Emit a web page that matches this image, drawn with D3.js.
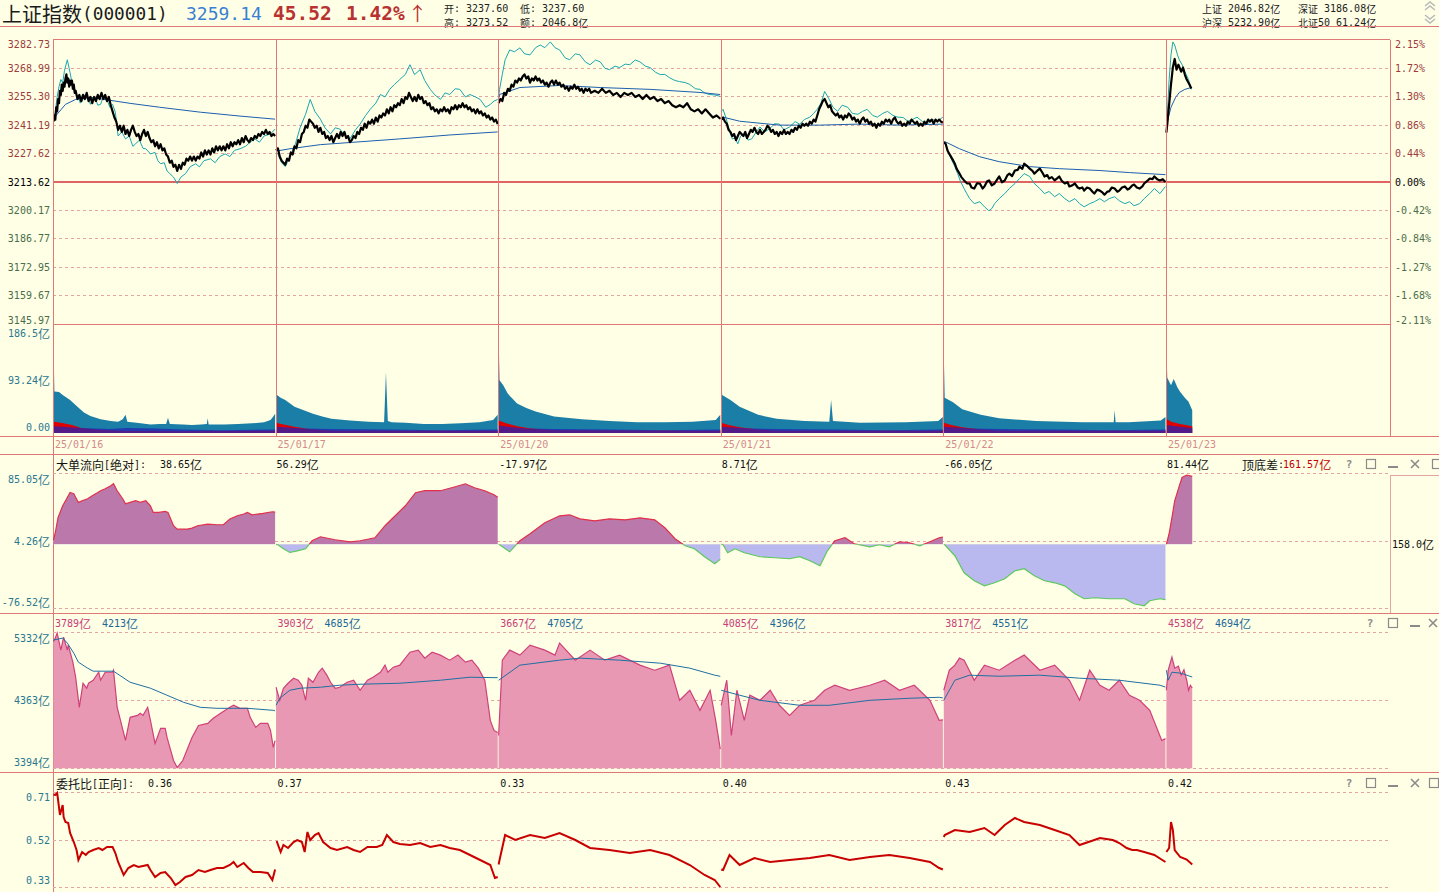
<!DOCTYPE html>
<html><head><meta charset="utf-8">
<script src="https://cdn.jsdelivr.net/npm/d3@7"></script>
<style>
html,body{margin:0;padding:0;background:#FFFFE6;overflow:hidden}
svg{display:block}
text{white-space:pre}
</style></head><body>
<svg id="c" width="1439" height="892"></svg>
<script>
// ---------------- DATA ----------------
const dates = ["25/01/16","25/01/17","25/01/20","25/01/21","25/01/22","25/01/23"];
const prevClose = 3213.62;
const priceTicks = [3282.73,3268.99,3255.30,3241.19,3227.62,3213.62,3200.17,3186.77,3172.95,3159.67,3145.97];
const pctTicks = ["2.15%","1.72%","1.30%","0.86%","0.44%","0.00%","-0.42%","-0.84%","-1.27%","-1.68%","-2.11%"];
const volTicks = [186.5, 93.24, 0];
const volTickLabels = ["186.5亿","93.24亿","0.00"];
const flowTicks = [85.05, 4.26, -76.52];
const flowTickLabels = ["85.05亿","4.26亿","-76.52亿"];
const p4Ticks = [5332, 4363, 3394];
const p4TickLabels = ["5332亿","4363亿","3394亿"];
const p5Ticks = [0.71, 0.52, 0.33];
const p5TickLabels = ["0.71","0.52","0.33"];
const headerInfo = [["开: 3237.60","低: 3237.60"],["高: 3273.52","额: 2046.8亿"]];
const marketInfo = [["上证 2046.82亿","深证 3186.08亿"],["沪深 5232.90亿","北证50 61.24亿"]];

// index price (black) [minute, price]
const indexPrice = [
 [[0,3243],[1,3246],[2,3244],[3,3250],[4,3248],[5,3254],[6,3252],[7,3258],[8,3256],[9,3261],[10,3258],[11,3262],[12,3260],[13,3264],[14,3266],[15,3262],[16,3264],[17,3260],[18,3263],[19,3261],[20,3263],[21,3259],[22,3261],[23,3257],[24,3258],[26,3254],[28,3256],[30,3253],[32,3256],[34,3254],[36,3257],[38,3253],[40,3255],[42,3252],[44,3255],[46,3253],[48,3256],[50,3254],[52,3257],[54,3254],[56,3256],[58,3253],[60,3255],[62,3251],[64,3248],[66,3245],[68,3243],[70,3239],[72,3241],[74,3238],[76,3241],[78,3237],[80,3239],[82,3236],[84,3239],[86,3241],[88,3238],[90,3236],[92,3237],[94,3234],[96,3237],[98,3239],[100,3236],[102,3238],[104,3235],[106,3233],[108,3234],[110,3231],[112,3233],[114,3230],[116,3232],[118,3229],[120,3230],[122,3227],[124,3226],[126,3223],[128,3224],[130,3221],[132,3222],[134,3219],[136,3222],[138,3220],[140,3223],[142,3222],[144,3225],[146,3224],[148,3226],[150,3224],[152,3226],[154,3224],[156,3226],[158,3225],[160,3228],[162,3226],[164,3229],[166,3227],[168,3229],[170,3227],[172,3230],[174,3228],[176,3231],[178,3229],[180,3231],[182,3229],[184,3231],[186,3229],[188,3232],[190,3230],[192,3233],[194,3231],[196,3233],[198,3232],[200,3234],[202,3232],[204,3235],[206,3233],[208,3236],[210,3234],[212,3233],[214,3235],[216,3234],[218,3236],[220,3235],[222,3237],[224,3236],[226,3238],[228,3237],[230,3239],[232,3237],[234,3238],[236,3236],[238,3237],[240,3236]],
 [[0,3229],[2,3230],[4,3226],[6,3224],[8,3223],[10,3222],[12,3225],[14,3224],[16,3228],[18,3227],[20,3231],[22,3230],[24,3234],[26,3233],[28,3237],[30,3238],[32,3241],[34,3240],[36,3244],[38,3243],[40,3242],[42,3240],[44,3241],[46,3238],[48,3240],[50,3237],[52,3238],[54,3235],[56,3236],[58,3234],[60,3236],[62,3233],[64,3235],[66,3237],[68,3235],[70,3238],[72,3236],[74,3238],[76,3235],[78,3236],[80,3233],[82,3234],[84,3236],[86,3235],[88,3238],[90,3237],[92,3240],[94,3239],[96,3242],[98,3240],[100,3243],[102,3242],[104,3244],[106,3242],[108,3245],[110,3243],[112,3246],[114,3245],[116,3247],[118,3246],[120,3249],[122,3247],[124,3250],[126,3248],[128,3251],[130,3250],[132,3252],[134,3251],[136,3254],[138,3252],[140,3255],[142,3254],[144,3257],[146,3255],[148,3253],[150,3255],[152,3253],[154,3256],[156,3254],[158,3255],[160,3252],[162,3253],[164,3251],[166,3252],[168,3249],[170,3250],[172,3248],[174,3249],[176,3247],[178,3249],[180,3248],[182,3250],[184,3248],[186,3249],[188,3247],[190,3250],[192,3249],[194,3251],[196,3249],[198,3251],[200,3250],[202,3252],[204,3250],[206,3251],[208,3249],[210,3250],[212,3248],[214,3249],[216,3247],[218,3249],[220,3247],[222,3248],[224,3246],[226,3247],[228,3245],[230,3246],[232,3244],[234,3245],[236,3243],[238,3244],[240,3241.8]],
 [[0,3252],[2,3254],[4,3253],[6,3257],[8,3256],[10,3259],[12,3258],[14,3261],[16,3260],[18,3263],[20,3262],[22,3264],[24,3263],[26,3265],[28,3266],[30,3264],[32,3265],[34,3262],[36,3264],[38,3263],[40,3265],[42,3263],[44,3264],[46,3262],[48,3263],[50,3261],[52,3262],[54,3260],[56,3262],[58,3263],[60,3261],[62,3263],[64,3261],[66,3262],[68,3260],[70,3261],[72,3259],[74,3260],[76,3258],[78,3260],[80,3259],[82,3261],[84,3259],[86,3260],[88,3258],[90,3259],[92,3257],[94,3259],[96,3258],[98,3259],[100,3257],[104,3258],[108,3257],[112,3259],[116,3257],[120,3258],[124,3256],[128,3257],[132,3255],[136,3257],[140,3256],[144,3257],[148,3255],[152,3256],[156,3254],[160,3256],[164,3254],[168,3255],[172,3253],[176,3254],[180,3252],[184,3253],[188,3251],[192,3250],[196,3251],[200,3250],[204,3252],[208,3249],[212,3248],[216,3249],[220,3247],[224,3249],[228,3247],[232,3245],[236,3246],[240,3244.4]],
 [[0,3244],[2,3245],[4,3243],[6,3242],[8,3239],[10,3238],[12,3236],[14,3237],[16,3234],[18,3236],[20,3238],[22,3237],[24,3236],[26,3238],[28,3235],[30,3237],[32,3239],[34,3238],[36,3240],[38,3238],[40,3237],[42,3239],[44,3237],[46,3238],[48,3239],[50,3241],[52,3240],[54,3238],[56,3239],[58,3237],[60,3238],[62,3236],[64,3238],[66,3237],[68,3239],[70,3237],[72,3238],[74,3237],[76,3239],[78,3238],[80,3240],[82,3239],[84,3241],[86,3240],[88,3242],[90,3241],[92,3242],[94,3241],[96,3243],[98,3242],[100,3244],[102,3243],[104,3246],[106,3249],[108,3251],[110,3253],[112,3254],[114,3252],[116,3250],[118,3251],[120,3248],[122,3247],[124,3246],[126,3247],[128,3245],[130,3246],[132,3244],[134,3246],[136,3245],[138,3247],[140,3246],[142,3244],[144,3245],[146,3243],[148,3244],[150,3242],[152,3244],[154,3245],[156,3243],[158,3244],[160,3242],[162,3243],[164,3241],[166,3242],[168,3240],[170,3242],[172,3241],[174,3243],[176,3242],[178,3244],[180,3243],[182,3244],[184,3242],[186,3244],[188,3245],[190,3243],[192,3242],[194,3243],[196,3241],[198,3242],[200,3241],[202,3243],[204,3242],[206,3244],[208,3243],[210,3242],[212,3243],[214,3241],[216,3242],[218,3241],[220,3243],[222,3242],[224,3244],[226,3243],[228,3244],[230,3242],[232,3244],[234,3243],[236,3244],[238,3243],[240,3242.6]],
 [[0,3233],[2,3232.2],[4,3229],[6,3227.3],[9,3225],[12,3222.5],[14,3220],[17,3217.7],[19,3216],[22,3214.4],[25,3213],[28,3212.9],[30,3211],[33,3210.5],[36,3213],[39,3212.9],[42,3210.5],[44,3211.5],[47,3214],[49,3214.4],[52,3212],[55,3212.9],[58,3215],[60,3216.3],[63,3213.5],[66,3214.4],[69,3217],[71,3217.7],[74,3216.5],[77,3219.2],[80,3219.5],[82,3221.1],[85,3220],[87,3222.5],[90,3221.5],[93,3220.1],[96,3219],[98,3217.7],[101,3219],[104,3220.1],[107,3218],[109,3216.3],[112,3217],[114,3215.3],[117,3216],[120,3214.4],[123,3215.5],[125,3216.3],[128,3214],[131,3212.9],[134,3213.5],[136,3211.5],[139,3212],[142,3212.9],[145,3211],[147,3210.5],[150,3211],[152,3209.5],[155,3211],[158,3210.5],[161,3209],[163,3208.1],[166,3210],[169,3209.5],[172,3208.5],[174,3207.6],[177,3209],[179,3209.1],[182,3211],[185,3210.5],[188,3209],[190,3209.5],[193,3211],[196,3211.5],[199,3210],[201,3210.5],[204,3212],[206,3212.4],[209,3211],[212,3210.5],[215,3211.5],[217,3212.9],[220,3214],[223,3215.3],[226,3215],[228,3216.3],[231,3215],[234,3214.4],[237,3215],[240,3213.62]],
 [[0,3237.6],[1,3241.8],[3,3251.4],[5,3261.1],[7,3269.3],[9,3273.5],[11,3268.3],[13,3270.7],[16,3267.3],[18,3269.3],[20,3265.9],[22,3263.5],[25,3261.1],[27,3259.14]]
];
// leading line (cyan)
const leadLine = [
 [[0,3243],[1,3244.2],[4,3255],[6,3260],[8,3263.5],[10,3262],[12,3268],[15,3273.1],[18,3266.8],[20,3262],[22,3258.7],[25,3256],[27,3255.3],[29,3252],[31,3252.9],[34,3256],[37,3255.3],[40,3251.4],[43,3255],[45,3254.8],[48,3251],[51,3251.4],[54,3255],[58,3253.8],[61,3250],[64,3251.4],[67,3247.6],[70,3236],[74,3238],[78,3234.6],[82,3236],[86,3231],[89,3232.2],[93,3234],[97,3230],[100,3229.8],[105,3227.3],[110,3228],[113,3224],[116,3222.5],[120,3223],[123,3219],[126,3217.7],[130,3216],[134,3212.9],[138,3216],[143,3217.7],[148,3221],[154,3222.5],[158,3221],[163,3224],[170,3224.9],[175,3223],[180,3226],[186,3227.3],[191,3226],[196,3229],[202,3229.8],[208,3231],[213,3233],[218,3234.6],[223,3233],[228,3236],[235,3237],[240,3239.4]],
 [[0,3228],[2,3227.3],[6,3223],[10,3221.1],[15,3226],[21,3232.2],[26,3240],[32,3246.6],[37,3253.8],[42,3248],[48,3244.2],[53,3240],[59,3237],[64,3240],[69,3239.4],[75,3236],[80,3234.6],[86,3239],[91,3241.8],[97,3246],[102,3249],[108,3252],[113,3256.2],[118,3255],[123,3258.7],[128,3261],[134,3263.5],[140,3266],[145,3270.7],[150,3265.9],[156,3268.3],[161,3263],[167,3258.7],[172,3256],[178,3253.8],[183,3257],[188,3256.2],[194,3259],[199,3258.7],[205,3255],[210,3256.2],[216,3255],[221,3253.8],[227,3250],[232,3251.4],[236,3253],[240,3253.8]],
 [[0,3255],[1,3258.7],[4,3266],[7,3273.1],[10,3276],[12,3277.9],[17,3277],[23,3278.9],[28,3276],[34,3275.5],[40,3279],[45,3280.3],[50,3279],[56,3281.8],[61,3279],[66,3277.9],[72,3274],[77,3273.1],[83,3276],[88,3275.5],[94,3272],[99,3270.7],[105,3273],[110,3272.1],[115,3269],[120,3268.3],[126,3270],[131,3269.3],[137,3271],[142,3270.7],[148,3273],[153,3272.1],[159,3270],[164,3269.3],[170,3267],[175,3265.9],[180,3266],[185,3264.4],[191,3263],[196,3262.5],[202,3262],[207,3261.1],[213,3259],[218,3258.7],[223,3257],[228,3256.2],[234,3256],[240,3255.3]],
 [[0,3248],[2,3249],[5,3245],[7,3241.8],[10,3237],[12,3234.6],[15,3235],[18,3232.2],[21,3236],[25,3237],[29,3234],[33,3234.6],[38,3238],[42,3240.4],[47,3238],[52,3239.4],[58,3242],[63,3241.8],[68,3239],[74,3240.4],[80,3243],[85,3241.8],[90,3244],[96,3245.2],[100,3247],[104,3249],[108,3252],[112,3257.7],[117,3253.8],[121,3250],[126,3248],[131,3251],[137,3250],[142,3247],[148,3246.6],[153,3248],[158,3249],[164,3246],[169,3245.2],[175,3247],[180,3248],[186,3246],[191,3245.2],[197,3245],[202,3243.2],[207,3244],[212,3245.2],[218,3243],[223,3241.8],[229,3244],[234,3243.2],[240,3245.2]],
 [[0,3233],[2,3232.2],[5,3228],[8,3224.9],[12,3221],[15,3217.7],[18,3214],[22,3210.5],[25,3208],[28,3205.7],[33,3203.3],[39,3204.2],[44,3201.8],[49,3199.9],[52,3201],[55,3203.3],[60,3205.7],[66,3208.1],[71,3210.5],[77,3212.9],[82,3215.3],[87,3217.7],[93,3216.3],[98,3212.9],[104,3210.5],[109,3208.1],[114,3209.1],[120,3206.6],[125,3208.1],[131,3205.7],[136,3204.2],[142,3205.7],[147,3203.3],[152,3201.8],[158,3203.3],[163,3204.2],[169,3205.7],[174,3204.2],[179,3205.7],[185,3206.6],[190,3204.7],[196,3203.3],[201,3204.2],[206,3202.3],[212,3203.3],[217,3205.7],[223,3208.1],[228,3210.5],[234,3208.1],[240,3211.5]],
 [[0,3240],[1,3246.6],[3,3263.5],[5,3275.5],[7,3281.8],[9,3280.3],[12,3275.5],[14,3273.1],[17,3270.7],[20,3267.3],[24,3263.5],[27,3258.7]]
];
// average price (blue)
const avgPrice = [
 [[0,3244],[1,3245],[13,3251.4],[24,3253.8],[40,3254.8],[61,3253.4],[83,3251.9],[115,3250],[159,3247.6],[202,3245.7],[240,3244.2]],
 [[0,3229],[2,3228.8],[15,3229.8],[48,3231.8],[91,3233.2],[134,3234.6],[188,3236.5],[240,3238]],
 [[0,3254],[1,3256.2],[23,3259.6],[66,3260.6],[110,3259.6],[164,3258.7],[218,3257.2],[240,3256.2]],
 [[0,3244],[2,3245.2],[20,3243.2],[63,3241.3],[106,3241.3],[150,3241.8],[193,3241.3],[240,3241.8]],
 [[0,3233],[2,3233.1],[17,3229.8],[39,3225.9],[60,3223.5],[93,3221.1],[125,3220.1],[169,3219.2],[201,3218.2],[240,3217.2]],
 [[0,3240],[1,3243.2],[5,3250],[10,3254.8],[14,3257.2],[20,3258.7],[27,3259.6]]
];
// volume (亿)
const volTotal = [
 [[0,158],[1,73],[6,72],[10,67],[18,58],[26,46],[33,36],[40,30],[51,24],[62,21],[70,20],[75,24],[78,32],[80,20],[90,18],[105,15],[115,16],[122,16],[124,27],[126,16],[140,15],[150,14],[160,15],[166,16],[167,26],[168,15],[185,15],[200,16],[215,17],[228,19],[235,23],[238,29],[240,34]],
 [[0,130],[1,67],[5,62],[10,58],[20,46],[30,40],[40,34],[50,29],[60,25],[80,22],[100,20],[117,19],[119,107],[121,21],[125,19],[140,18],[160,16],[180,16],[200,17],[220,19],[235,23],[240,32]],
 [[0,167],[1,93],[5,84],[10,69],[20,52],[30,44],[40,38],[60,29],[90,24],[120,21],[150,19],[180,19],[210,20],[235,23],[240,32]],
 [[0,134],[1,67],[10,58],[20,46],[40,32],[60,25],[90,21],[117,20],[119,58],[121,21],[150,18],[200,19],[235,21],[240,28]],
 [[0,137],[1,62],[10,54],[20,42],[40,32],[60,26],[100,21],[150,19],[184,19],[185,40],[186,19],[200,19],[235,22],[240,28]],
 [[0,150],[1,97],[5,84],[8,95],[12,80],[15,72],[20,62],[24,55],[28,40]]
];
const volBlue = [
 [[0,12],[10,11],[30,9],[60,7],[80,9],[110,8],[140,6],[180,5],[240,6]],
 [[0,11],[10,10],[30,8],[60,7],[120,6],[180,5],[240,6]],
 [[0,13],[10,11],[30,8],[60,7],[120,6],[180,5],[240,6]],
 [[0,11],[10,10],[30,8],[60,7],[120,6],[180,5],[240,6]],
 [[0,11],[10,10],[30,8],[60,7],[120,6],[180,5],[240,6]],
 [[0,14],[10,12],[20,10],[28,9]]
];
const volRed = [
 [[0,20],[8,18],[20,14],[30,9],[45,6],[70,4],[140,3],[240,4]],
 [[0,18],[8,15],[20,11],[35,7],[60,4],[240,4]],
 [[0,22],[8,17],[20,12],[35,8],[60,5],[240,4]],
 [[0,18],[8,14],[20,10],[40,6],[60,4],[240,4]],
 [[0,18],[8,14],[20,10],[40,6],[60,4],[240,4]],
 [[0,25],[5,20],[15,16],[28,12]]
];
// big order net flow (亿)
const bigFlow = [
 [[0,5],[2,14.2],[5,32.2],[10,46.2],[15,56.1],[18,62.1],[22,60.6],[27,50.2],[31,52.2],[37,54.6],[42,58.2],[48,62.1],[51,64.2],[56,66.6],[62,70.2],[65,72.6],[69,64.2],[75,54.6],[78,48.6],[83,50.2],[89,52.2],[94,50.2],[100,52.2],[105,46.2],[108,38.2],[114,38.2],[121,39.4],[124,38.2],[130,22.3],[134,18.3],[145,18.3],[150,19.5],[156,22.3],[167,24.3],[177,23.5],[184,23.5],[191,30.3],[199,34.2],[206,36.3],[210,38.2],[215,35.4],[221,36.3],[227,37],[237,39],[240,38.65]],
 [[0,0],[2,-0.5],[8,-5.3],[15,-9.7],[23,-7.7],[32,-5.3],[39,4.3],[48,9.1],[64,5.5],[80,3.1],[91,4.3],[107,7.9],[118,22.3],[129,34.3],[140,46.2],[151,61.8],[161,64.2],[178,64.2],[194,69],[205,72.5],[215,67.7],[226,64.2],[236,59.4],[240,56.29]],
 [[0,0],[1,-0.5],[12,-8.9],[23,4.3],[34,12.7],[50,25.8],[66,34.2],[77,35.4],[88,30.6],[104,28.2],[120,30.6],[137,29.4],[153,31.8],[169,29.4],[180,19.9],[191,6.7],[202,-1.7],[212,-5.3],[223,-14.8],[234,-23.2],[240,-17.97]],
 [[0,0],[2,-0.5],[7,-10.1],[15,-5.3],[25,-10.1],[42,-14.8],[58,-16],[74,-17.2],[85,-14.8],[96,-19.6],[107,-25.6],[115,-7.7],[123,4.3],[134,7.9],[144,0.7],[161,-2.9],[171,-0.5],[182,-2.9],[193,3.1],[204,1.9],[215,-1.7],[226,3.1],[236,7.9],[240,8.71]],
 [[0,0],[1,-0.5],[12,-13.6],[22,-34],[33,-43.6],[44,-49.6],[55,-46],[66,-41.2],[77,-31.6],[87,-29.2],[98,-37.6],[109,-43.6],[120,-46],[131,-49.6],[142,-59.1],[152,-65.1],[163,-63.9],[179,-65.1],[196,-65.1],[206,-71.1],[217,-73.5],[223,-67.5],[234,-65.1],[240,-66.05]],
 [[0,0],[3,13],[6,32],[9,52],[14,70],[17,80],[22,83],[28,81.44]]
];
const flowDayLabels = ["38.65亿","56.29亿","-17.97亿","8.71亿","-66.05亿","81.44亿"];
// panel 4 (亿)
const p4Main = [
 [[0,5200],[2,5250],[4,5321],[8,5078],[11,5264],[15,5078],[16,5150],[21,4906],[24,4692],[28,4263],[32,4606],[36,4535],[38,4606],[43,4649],[49,4763],[51,4649],[56,4763],[64,4763],[65,4792],[69,4263],[78,3791],[83,4120],[91,4148],[94,4177],[97,4148],[102,4263],[105,4077],[110,3748],[116,3963],[121,3963],[123,3834],[130,3505],[134,3405],[140,3505],[150,3834],[157,4005],[167,4034],[173,4106],[181,4177],[191,4263],[195,4292],[202,4249],[210,4249],[213,4120],[219,3977],[224,4034],[232,4034],[235,3934],[238,3691],[240,3789]],
 [[0,4549],[4,4363],[8,4535],[13,4606],[19,4678],[24,4649],[28,4578],[32,4363],[35,4678],[40,4620],[46,4763],[50,4821],[55,4721],[59,4620],[64,4535],[69,4549],[77,4620],[84,4649],[91,4506],[99,4649],[105,4692],[113,4763],[118,4864],[121,4763],[127,4835],[134,4864],[145,5049],[154,5078],[161,4964],[169,5049],[178,5007],[188,4935],[197,5007],[205,4906],[212,4935],[219,4821],[226,4649],[232,4077],[236,3934],[240,3903]],
 [[0,3862],[4,4935],[12,5078],[23,5007],[34,5150],[50,5078],[61,5007],[66,5178],[83,4935],[99,5078],[115,4935],[131,5007],[153,4864],[169,4792],[185,4864],[196,4363],[207,4506],[218,4220],[229,4506],[235,4077],[240,3667]],
 [[0,4292],[6,4649],[11,3862],[17,4506],[25,4077],[31,4435],[42,4363],[53,4506],[63,4292],[74,4148],[85,4292],[101,4363],[112,4506],[123,4578],[139,4506],[161,4578],[177,4649],[193,4506],[209,4578],[226,4363],[236,4077],[240,4085]],
 [[0,4506],[6,4792],[12,4864],[17,4964],[22,4935],[33,4649],[44,4864],[60,4792],[77,4935],[87,5007],[104,4792],[120,4864],[136,4649],[147,4363],[158,4792],[169,4578],[179,4506],[190,4649],[201,4435],[212,4363],[223,4220],[236,3791],[240,3817]],
 [[0,4506],[2,4792],[6,4978],[9,4821],[13,4850],[16,4721],[19,4800],[22,4649],[24,4506],[26,4578],[28,4538]]
];
const p4Avg = [
 [[0,5221],[10,5250],[15,5178],[22,5035],[27,4906],[37,4821],[43,4778],[65,4778],[83,4620],[105,4535],[123,4435],[141,4334],[159,4263],[177,4249],[210,4249],[238,4220],[240,4213]],
 [[0,4292],[4,4392],[15,4506],[26,4535],[48,4549],[69,4578],[91,4592],[134,4606],[178,4649],[210,4692],[240,4685]],
 [[0,4649],[23,4864],[66,4935],[88,4964],[131,4935],[175,4892],[207,4821],[234,4721],[240,4705]],
 [[0,4506],[20,4435],[42,4363],[85,4292],[117,4292],[161,4363],[204,4392],[236,4406],[240,4396]],
 [[0,4363],[12,4649],[28,4721],[60,4706],[104,4721],[147,4678],[190,4649],[234,4578],[240,4551]],
 [[0,4792],[2,4649],[6,4763],[16,4749],[28,4694]]
];
const p4MainLabels = ["3789亿","3903亿","3667亿","4085亿","3817亿","4538亿"];
const p4AvgLabels = ["4213亿","4685亿","4705亿","4396亿","4551亿","4694亿"];
// panel 5 委托比
const orderRatio = [
 [[0,0.70],[2,0.698],[4,0.706],[5,0.678],[7,0.618],[10,0.658],[11,0.61],[13,0.59],[16,0.586],[18,0.546],[22,0.51],[25,0.478],[27,0.438],[31,0.47],[35,0.458],[38,0.47],[43,0.478],[49,0.486],[53,0.478],[58,0.49],[64,0.49],[67,0.466],[70,0.43],[76,0.378],[81,0.406],[87,0.418],[92,0.41],[102,0.418],[105,0.398],[110,0.37],[116,0.386],[121,0.39],[127,0.366],[132,0.338],[137,0.35],[143,0.37],[150,0.378],[157,0.398],[164,0.39],[170,0.398],[177,0.406],[184,0.406],[191,0.418],[195,0.43],[199,0.41],[206,0.426],[211,0.406],[216,0.39],[224,0.39],[232,0.386],[237,0.358],[240,0.40]],
 [[0,0.51],[1,0.51],[5,0.47],[8,0.498],[13,0.486],[19,0.51],[23,0.518],[28,0.51],[31,0.47],[34,0.55],[37,0.518],[42,0.538],[46,0.546],[51,0.51],[59,0.486],[66,0.478],[77,0.49],[84,0.478],[91,0.47],[99,0.49],[109,0.49],[115,0.498],[120,0.538],[127,0.51],[134,0.502],[145,0.498],[156,0.506],[167,0.49],[178,0.498],[188,0.486],[199,0.478],[210,0.458],[221,0.438],[232,0.418],[237,0.366],[240,0.37]],
 [[0,0.42],[1,0.438],[7,0.538],[18,0.518],[34,0.538],[50,0.526],[66,0.546],[83,0.518],[99,0.486],[120,0.478],[142,0.466],[164,0.478],[185,0.458],[207,0.418],[223,0.378],[234,0.358],[240,0.33]],
 [[0,0.40],[2,0.398],[9,0.458],[20,0.418],[36,0.446],[53,0.43],[74,0.438],[96,0.446],[117,0.458],[139,0.438],[161,0.45],[182,0.458],[204,0.446],[226,0.43],[236,0.406],[240,0.40]],
 [[0,0.53],[1,0.538],[12,0.558],[28,0.55],[44,0.566],[55,0.538],[66,0.578],[77,0.606],[87,0.59],[104,0.578],[120,0.558],[136,0.538],[147,0.498],[163,0.518],[169,0.526],[183,0.518],[190,0.506],[198,0.486],[204,0.478],[209,0.478],[217,0.47],[228,0.458],[240,0.43]],
 [[0,0.47],[3,0.486],[5,0.59],[7,0.558],[9,0.478],[15,0.45],[22,0.44],[28,0.42]]
];
const orderRatioLabels = ["0.36","0.37","0.33","0.40","0.43","0.42"];

// ---------------- DRAW ----------------
const svg = d3.select("#c");
const MONO = '"DejaVu Sans Mono","Liberation Mono",monospace';
const CJK = '"Noto Sans CJK SC","Noto Sans",sans-serif';
const FRAME = "#E07878", DASH = "#E4A4A4";
const L = 53, R = 1390;
svg.append("rect").attr("width",1439).attr("height",892).attr("fill","#FFFFE6");

const CJKRE = /[\u2190-\u21FF\u2E80-\u9FFF\uFE30-\uFE4F\uFF00-\uFFEF]/;
function label(x, y, str, o={}) {
  const t = svg.append("text").attr("x",x).attr("y",y).attr("fill",o.fill||"#000")
    .attr("text-anchor",o.anchor||"start").attr("dominant-baseline","central")
    .attr("font-weight",o.weight||"normal");
  const runs = str.match(/([\u2190-\u21FF\u2E80-\u9FFF\uFE30-\uFE4F\uFF00-\uFFEF]+|[^\u2190-\u21FF\u2E80-\u9FFF\uFE30-\uFE4F\uFF00-\uFFEF]+)/g) || [];
  runs.forEach(r => {
    const c = CJKRE.test(r);
    t.append("tspan").attr("font-family", c ? CJK : MONO)
      .attr("font-size", c ? (o.cjk||12) : (o.size||10)).text(r);
  });
  return t;
}
function hline(y, x1, x2, color, w=1, dash=null) {
  const l = svg.append("line").attr("x1",x1).attr("x2",x2).attr("y1",y).attr("y2",y)
    .attr("stroke",color).attr("stroke-width",w).attr("shape-rendering","crispEdges");
  if (dash) l.attr("stroke-dasharray",dash);
}
function vline(x, y1, y2, color, w=1) {
  svg.append("line").attr("x1",x).attr("x2",x).attr("y1",y1).attr("y2",y2)
    .attr("stroke",color).attr("stroke-width",w).attr("shape-rendering","crispEdges");
}

const NDAYS = 6, PER = 241;
const x = d3.scaleLinear().domain([0, NDAYS*PER]).range([L, 1388.5]);
const X = (d, m) => x(d*PER + m + 0.5);
const dayStart = d => x(d*PER);

// scales
const yP = d3.scaleLinear().domain([3145.97, prevClose, 3282.73]).range([324, 182, 40]);
const yV = d3.scaleLinear().domain([0, 186.5]).range([433, 327]);
const yF = d3.scaleLinear().domain([-76.52, 85.05]).range([608.3, 473.3]);
const yM = d3.scaleLinear().domain([3394, 5332]).range([768.3, 632.3]);
const yW = d3.scaleLinear().domain([0.33, 0.71]).range([887, 792]);

// ---- header ----
label(2, 13, "上证指数(000001)", {size:17.8, cjk:20, fill:"#1a1a1a"});
label(186, 13, "3259.14", {size:18, fill:"#3b7fd4"});
label(273, 13, "45.52", {size:19.5, fill:"#b83232", weight:"bold"});
label(346, 13, "1.42%", {size:19.5, fill:"#b83232", weight:"bold"});
label(408, 12, "↑", {cjk:19, fill:"#b83232"});
const rowY = [7.5, 22];
headerInfo.forEach((row,r) => row.forEach((s,c) => label(444 + c*76, rowY[r], s, {size:10, cjk:10, fill:"#222"})));
marketInfo.forEach((row,r) => row.forEach((s,c) => label(1202 + c*96, rowY[r], s, {size:10, cjk:10, fill:"#222"})));
// chevrons
[0,4].forEach(dy => svg.append("path").attr("d",`M1425,${6+dy} l5,-4 l5,4`).attr("fill","none").attr("stroke","#b8b8b8").attr("stroke-width",1.5));
[0,4].forEach(dy => svg.append("path").attr("d",`M1425,${15+dy} l5,4 l5,-4`).attr("fill","none").attr("stroke","#b8b8b8").attr("stroke-width",1.5));
hline(26.5, 0, 1439, FRAME);

// ---- price panel ----
priceTicks.forEach((t,i) => {
  if (i>0 && i<priceTicks.length-1 && t !== prevClose) hline(Math.round(yP(t))+0.5, L, R, DASH, 1, "3,3");
});
hline(Math.round(yP(prevClose)), L, R, "#E06464", 2);
priceTicks.forEach((t,i) => {
  let yy = yP(t); if (i===0) yy += 4; if (i===priceTicks.length-1) yy -= 4;
  const col = t > prevClose ? "#9c3c3c" : (t < prevClose ? "#4a6e4a" : "#000");
  label(50, yy, t.toFixed(2), {anchor:"end", fill:col});
  const pcol = i < 5 ? "#9c3c3c" : (i > 5 ? "#4a6e4a" : "#000");
  label(1395, yy, pctTicks[i], {fill:pcol});
});
svg.append("clipPath").attr("id","clipTop").append("rect").attr("x",L).attr("y",39.5).attr("width",R-L).attr("height",285);
const gP = svg.append("g").attr("clip-path","url(#clipTop)");
const lineP = d => d3.line().x(p=>X(d,p[0])).y(p=>yP(p[1]));
leadLine.forEach((arr,d) => gP.append("path").attr("d",lineP(d)(arr)).attr("fill","none").attr("stroke","#1aa6ae").attr("stroke-width",1));
avgPrice.forEach((arr,d) => gP.append("path").attr("d",lineP(d)(arr)).attr("fill","none").attr("stroke","#1b5fae").attr("stroke-width",1));
indexPrice.forEach((arr,d) => gP.append("path").attr("d",lineP(d)(arr)).attr("fill","none").attr("stroke","#000").attr("stroke-width",2.2).attr("stroke-linejoin","round"));

// ---- volume panel ----
const areaV = d => d3.area().x(p=>X(d,p[0])).y0(yV(0)).y1(p=>yV(p[1]));
volTotal.forEach((arr,d) => svg.append("path").attr("d",areaV(d)(arr)).attr("fill","#1a7ea6"));
volRed.forEach((arr,d) => svg.append("path").attr("d",areaV(d)(arr)).attr("fill","#e00000"));
volBlue.forEach((arr,d) => svg.append("path").attr("d",areaV(d)(arr)).attr("fill","#2424b4").attr("opacity",0.75));
volTicks.forEach((t,i) => {
  let yy = yV(t); if (i===0) yy += 6; if (i===volTicks.length-1) yy -= 6;
  label(50, yy, volTickLabels[i], {anchor:"end", fill:"#2a7890"});
});
dates.forEach((s,d) => label(dayStart(d)+2, 444, s, {fill:"#d48a8a"}));

// frames
hline(39.5, L, R, FRAME);
hline(324.5, L, R, FRAME);
hline(436.5, 0, 1439, FRAME);
hline(454.5, 0, 1439, FRAME);
hline(613.5, 0, 1439, FRAME);
hline(772.5, 0, 1439, FRAME);
vline(L+0.5, 39.5, 892, FRAME);
vline(R+0.5, 39.5, 436.5, FRAME);
for (let d=1; d<NDAYS; d++) vline(Math.round(dayStart(d))+0.5, 39.5, 436.5, FRAME);

// ---- flow panel ----
flowTicks.forEach((t,i) => {
  hline(Math.round(yF(t))+0.5, L, R, DASH, 1, "3,3");
  let yy = yF(t); if (i===0) yy += 6; if (i===flowTicks.length-1) yy -= 6;
  label(50, yy, flowTickLabels[i], {anchor:"end", fill:"#2a7890"});
});
const y0F = yF(0);
svg.append("clipPath").attr("id","fPos").append("rect").attr("x",0).attr("y",455).attr("width",1439).attr("height",y0F-455);
svg.append("clipPath").attr("id","fNeg").append("rect").attr("x",0).attr("y",y0F).attr("width",1439).attr("height",613-y0F);
const areaF = d => d3.area().x(p=>X(d,p[0])).y0(y0F).y1(p=>yF(p[1]));
const lineF = d => d3.line().x(p=>X(d,p[0])).y(p=>yF(p[1]));
const gPos = svg.append("g").attr("clip-path","url(#fPos)");
const gNeg = svg.append("g").attr("clip-path","url(#fNeg)");
bigFlow.forEach((arr,d) => {
  gPos.append("path").attr("d",areaF(d)(arr)).attr("fill","#bb78aa");
  gNeg.append("path").attr("d",areaF(d)(arr)).attr("fill","#b9b9ef");
  gPos.append("path").attr("d",lineF(d)(arr)).attr("fill","none").attr("stroke","#e0304c").attr("stroke-width",1.2);
  gNeg.append("path").attr("d",lineF(d)(arr)).attr("fill","none").attr("stroke","#5cc85c").attr("stroke-width",1.2);
});
label(56, 464, "大单流向[绝对]:", {fill:"#111"});
flowDayLabels.forEach((s,d) => label(d===0 ? 160 : dayStart(d)+1, 464, s, {fill:"#111"}));
label(1242, 464, "顶底差:", {fill:"#111"});
label(1283, 464, "161.57亿", {fill:"#c00000"});
vline(R+0.5, 475, 613, "#E4A4A4");
hline(475.5, R, 1439, "#E4A4A4");
label(1392, 544, "158.0亿", {fill:"#111"});

function icons(y, xs) {
  const c = "#8a8a8a";
  const [q, sq, mn, cl, sq2] = xs;
  if (q != null) label(q, y, "?", {size:11, fill:c, weight:"bold"}).attr("text-anchor","middle");
  if (sq != null) svg.append("rect").attr("x",sq-4.5).attr("y",y-4.5).attr("width",9).attr("height",9).attr("fill","none").attr("stroke",c).attr("stroke-width",1.2);
  if (mn != null) hline(y+3, mn-5, mn+5, c, 2);
  if (cl != null) svg.append("path").attr("d",`M${cl-4},${y-4} L${cl+4},${y+4} M${cl+4},${y-4} L${cl-4},${y+4}`).attr("stroke",c).attr("stroke-width",1.6);
  if (sq2 != null) svg.append("rect").attr("x",sq2-4.5).attr("y",y-4.5).attr("width",9).attr("height",9).attr("fill","none").attr("stroke",c).attr("stroke-width",1.2);
}
icons(464, [1349, 1371, 1393, 1415, 1437]);

// ---- panel 4 ----
p4Ticks.forEach((t,i) => {
  hline(Math.round(yM(t))+0.5, L, R, DASH, 1, "3,3");
  let yy = yM(t); if (i===0) yy += 6; if (i===p4Ticks.length-1) yy -= 6;
  label(50, yy, p4TickLabels[i], {anchor:"end", fill:"#2a7890"});
});
const areaM = d => d3.area().x(p=>X(d,p[0])).y0(yM(3394)).y1(p=>yM(p[1]));
const lineM = d => d3.line().x(p=>X(d,p[0])).y(p=>yM(p[1]));
p4Main.forEach((arr,d) => {
  svg.append("path").attr("d",areaM(d)(arr)).attr("fill","#e898b2");
  svg.append("path").attr("d",lineM(d)(arr)).attr("fill","none").attr("stroke","#d0407a").attr("stroke-width",1.2);
});
p4Avg.forEach((arr,d) => svg.append("path").attr("d",lineM(d)(arr)).attr("fill","none").attr("stroke","#1f6fa2").attr("stroke-width",1));
p4MainLabels.forEach((s,d) => label(dayStart(d)+2, 623, s, {fill:"#c8407a"}));
p4AvgLabels.forEach((s,d) => label(dayStart(d)+49, 623, s, {fill:"#1a6898"}));
icons(623, [1370, 1393, 1415, 1433]);

// ---- panel 5 ----
p5Ticks.forEach((t,i) => {
  hline(Math.round(yW(t))+0.5, L, R, DASH, 1, "3,3");
  let yy = yW(t); if (i===0) yy += 5; if (i===p5Ticks.length-1) yy -= 7;
  label(50, yy, p5TickLabels[i], {anchor:"end", fill:"#2a7890"});
});
const lineW = d => d3.line().x(p=>X(d,p[0])).y(p=>yW(p[1]));
orderRatio.forEach((arr,d) => svg.append("path").attr("d",lineW(d)(arr)).attr("fill","none").attr("stroke","#c80000").attr("stroke-width",2));
label(56, 783, "委托比[正向]:", {fill:"#111"});
orderRatioLabels.forEach((s,d) => label(d===0 ? 148 : dayStart(d)+2, 783, s, {fill:"#111"}));
icons(783, [1349, 1371, 1393, 1415, 1434]);
</script>
</body></html>
